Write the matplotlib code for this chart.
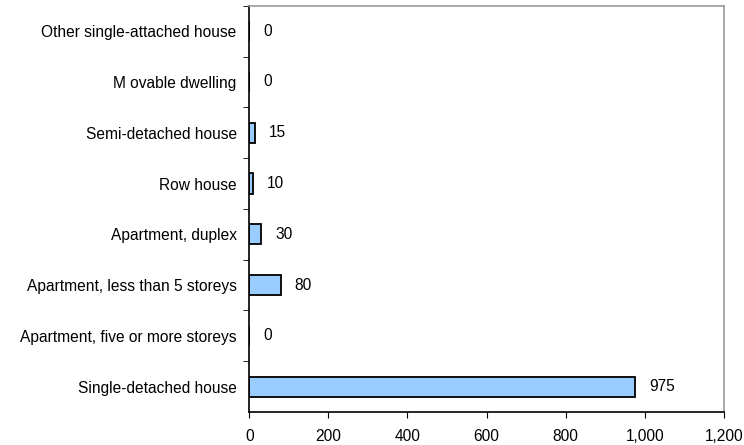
import matplotlib.pyplot as plt

# Dwelling types (top to bottom in the chart)
categories = [
    'Other single-attached house',
    'M ovable dwelling',
    'Semi-detached house',
    'Row house',
    'Apartment, duplex',
    'Apartment, less than 5 storeys',
    'Apartment, five or more storeys',
    'Single-detached house',
]
counts = [0, 0, 15, 10, 30, 80, 0, 975]
xticks = [0, 200, 400, 600, 800, 1000, 1200]
xtick_labels = ['0', '200', '400', '600', '800', '1,000', '1,200']

plt.rcParams['font.family'] = ['Liberation Sans', 'DejaVu Sans']
fs = 11.2

fig = plt.figure(figsize=(7.44, 4.45), dpi=100)
ax = fig.add_axes([0.335, 0.074, 0.638, 0.913])

# reverse so first category is at the top
pos = list(range(len(categories)))[::-1]
ax.barh(pos, counts, height=0.4, color='#99CCFF', edgecolor='black', linewidth=1.3)

for y, v in zip(pos, counts):
    ax.annotate(f'{v:,}', (v, y), xytext=(10, 0), textcoords='offset points',
                va='center', ha='left', fontsize=fs)

ax.set_yticks(pos)
ax.set_yticklabels(categories, fontsize=fs)
ax.set_ylim(-0.5, len(categories) - 0.5)
ax.set_yticks([p + 0.5 for p in range(len(categories))], minor=True)
ax.tick_params(axis='y', which='major', length=0, pad=9)
ax.tick_params(axis='y', which='minor', length=4, direction='out')

ax.set_xlim(0, 1200)
ax.set_xticks(xticks)
ax.set_xticklabels(xtick_labels, fontsize=fs)
ax.tick_params(axis='x', length=4, direction='out', pad=8)

ax.spines['left'].set_color('black')
ax.spines['bottom'].set_color('black')
ax.spines['top'].set_color('#999999')
ax.spines['right'].set_color('#999999')
for s in ax.spines.values():
    s.set_linewidth(1.2)

fig.savefig('out.png', dpi=100)
